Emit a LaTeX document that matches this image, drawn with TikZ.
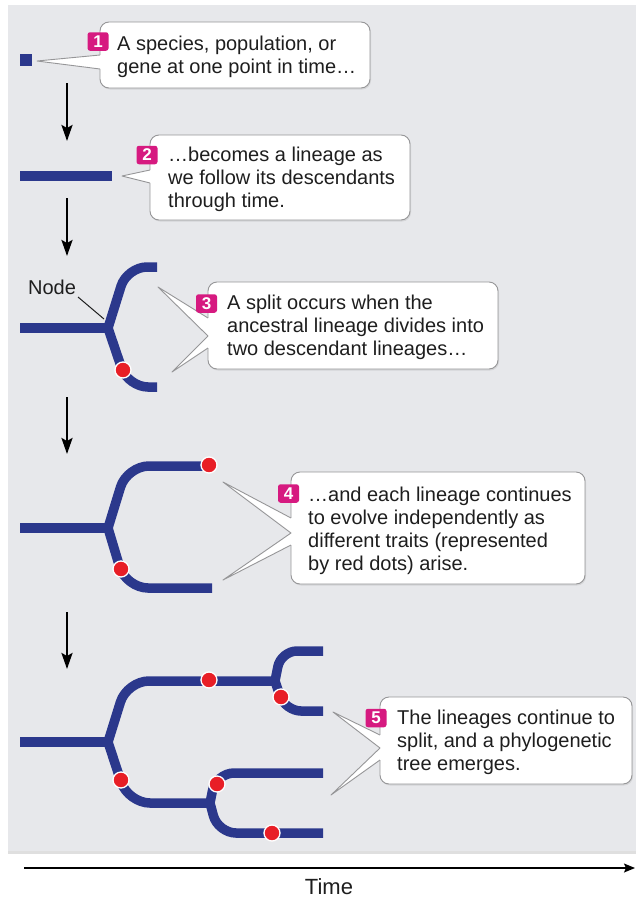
\documentclass[tikz,border=0pt]{standalone}
\usepackage{fontspec}
\setmainfont{Liberation Sans}
\usetikzlibrary{arrows.meta,shadows}

\definecolor{navy}{RGB}{43,56,140}
\definecolor{traitred}{RGB}{232,30,38}
\definecolor{badgepink}{RGB}{214,26,128}
\definecolor{panelgray}{RGB}{231,232,235}
\definecolor{edgegray}{RGB}{150,150,152}
\definecolor{inkgray}{RGB}{30,30,30}

\begin{document}
\begin{tikzpicture}[x=1pt,y=-1pt,
  branch/.style={draw=navy, line width=9.5pt, line join=miter},
  trait/.style={circle, fill=traitred, draw=white, line width=1.3pt, minimum size=16pt, inner sep=0pt},
  flow/.style={draw=black, line width=2.4pt, -{Stealth[length=16pt,width=11pt,inset=3pt]}},
  callout/.style={draw=edgegray, line width=0.9pt, fill=white, rounded corners=9pt, inner sep=0pt,
    drop shadow={opacity=0.18, shadow xshift=1pt, shadow yshift=-1.5pt}},
  tailfill/.style={fill=white},
  tailline/.style={draw=edgegray, line width=0.9pt, line join=round},
  badge/.style={fill=badgepink, rounded corners=2.5pt, minimum width=21pt, minimum height=18.5pt,
    inner sep=0pt, text=white, font=\bfseries\fontsize{17}{17}\selectfont},
  txt/.style={inner sep=0pt, anchor=base west, text=inkgray, font=\fontsize{20}{23.3}\selectfont},
  label/.style={inner sep=0pt, text=inkgray, font=\fontsize{20}{20}\selectfont}]

\useasboundingbox (0,0) rectangle (636,897);
\fill[white] (0,0) rectangle (636,897);

% background panel
\fill[panelgray, drop shadow={opacity=0.25, shadow xshift=0pt, shadow yshift=-2.5pt}] (8,5) rectangle (636,851);

% ---------- stage 1: a single point ----------
\node[fill=navy, minimum width=12pt, minimum height=12pt, inner sep=0pt] (pt) at (26,60) {};

% ---------- stage 2: a lineage ----------
\draw[branch] (20,176) -- (112,176);

% ---------- stage 3: first split ----------
% (a corner is rounded when the option is in force as the segment reaching it is added)
\coordinate (n3) at (108,328);
\draw[branch] (20,328) -- (n3);
\draw[branch] (157,267) [rounded corners=20pt] -- (127,267) [sharp corners] -- (n3) [rounded corners=20pt] -- (128,387) -- (157,387);
\node[trait] (d31) at (123,370) {};

% ---------- stage 4: independent evolution ----------
\coordinate (n4) at (108,528);
\draw[branch] (20,528) -- (n4);
\draw[branch] (209,466) [rounded corners=22pt] -- (127,466) [sharp corners] -- (n4) [rounded corners=22pt] -- (126,588) -- (212,588);
\node[trait] (d41) at (209,465) {};
\node[trait] (d42) at (121,569) {};

% ---------- stage 5: a phylogenetic tree ----------
\coordinate (n5) at (108,742);
\coordinate (n5a) at (275,681);
\coordinate (n5b) at (210,803);
\draw[branch] (20,742) -- (n5);
\draw[branch] (n5a) [rounded corners=22pt] -- (127,681) [sharp corners] -- (n5) [rounded corners=22pt] -- (128,803) -- (n5b);
\draw[branch] (323,651) [rounded corners=16pt] -- (281,651) [sharp corners] -- (n5a) [rounded corners=16pt] -- (285,711) -- (323,711);
\draw[branch] (323,773) [rounded corners=18pt] -- (216,773) [sharp corners] -- (n5b) [rounded corners=18pt] -- (218,833) -- (323,833);
\node[trait] (d51) at (209,680) {};
\node[trait] (d52) at (281,697) {};
\node[trait] (d53) at (121,780) {};
\node[trait] (d54) at (217,784) {};
\node[trait] (d55) at (272,833) {};

% ---------- "Node" label ----------
\node[label, anchor=base] (nodelbl) at (52,294) {Node};
\coordinate (nodetip) at (104,319);
\coordinate (nodefoot) at (78,297);
\draw[line width=1pt, inkgray] (nodefoot) -- (nodetip);

% ---------- arrows between stages ----------
\coordinate (a1s) at (67,83);  \coordinate (a1e) at (67,141);
\coordinate (a2s) at (67,198); \coordinate (a2e) at (67,256);
\coordinate (a3s) at (67,397); \coordinate (a3e) at (67,454);
\coordinate (a4s) at (67,612); \coordinate (a4e) at (67,669);
\draw[flow] (a1s) -- (a1e);
\draw[flow] (a2s) -- (a2e);
\draw[flow] (a3s) -- (a3e);
\draw[flow] (a4s) -- (a4e);

% ---------- callout 1 ----------
\node[callout, minimum width=270pt, minimum height=66pt] (box1) at (235,55) {};
\coordinate (t1) at (37,61);
\fill[tailfill] (102,55) -- (100,55) -- (t1) -- (100,69) -- (102,69) -- cycle;
\draw[tailline] (100,55) -- (t1) -- (100,69);
\node[badge] (b1) at (98,41.5) {1};
\node[txt] (txt1) at (117,50) {\parbox[t]{250pt}{A species, population, or\\gene at one point in time…}};

% ---------- callout 2 ----------
\node[callout, minimum width=260pt, minimum height=85pt] (box2) at (280,177.5) {};
\coordinate (t2) at (122,176);
\fill[tailfill] (152,170) -- (150,170) -- (t2) -- (150,183) -- (152,183) -- cycle;
\draw[tailline] (150,170) -- (t2) -- (150,183);
\node[badge] (b2) at (147,155) {2};
\node[txt] (txt2) at (168,161) {\parbox[t]{250pt}{…becomes a lineage as\\we follow its descendants\\through time.}};

% ---------- callout 3 ----------
\node[callout, minimum width=290pt, minimum height=87pt] (box3) at (353,325.5) {};
\coordinate (t3a) at (158,287);
\coordinate (t3b) at (172,372);
\fill[tailfill] (210,318) -- (208,318) -- (t3a) -- (208,336) -- (t3b) -- (208,348) -- (210,348) -- cycle;
\draw[tailline] (208,318) -- (t3a) -- (208,336) -- (t3b) -- (208,348);
\node[badge] (b3) at (206.5,303.5) {3};
\node[txt] (txt3) at (227,309) {\parbox[t]{280pt}{A split occurs when the\\ancestral lineage divides into\\two descendant lineages…}};

% ---------- callout 4 ----------
\node[callout, minimum width=294pt, minimum height=112pt] (box4) at (438,528) {};
\coordinate (t4a) at (223,482);
\coordinate (t4b) at (223,580);
\fill[tailfill] (293,518) -- (291,518) -- (t4a) -- (291,533) -- (t4b) -- (291,545) -- (293,545) -- cycle;
\draw[tailline] (291,518) -- (t4a) -- (291,533) -- (t4b) -- (291,545);
\node[badge] (b4) at (288.5,493.5) {4};
\node[txt] (txt4) at (308,501) {\parbox[t]{280pt}{…and each lineage continues\\to evolve independently as\\different traits (represented\\by red dots) arise.}};

% ---------- callout 5 ----------
\node[callout, minimum width=252pt, minimum height=87pt] (box5) at (506,740.5) {};
\coordinate (t5a) at (333,712);
\coordinate (t5b) at (331,795);
\fill[tailfill] (382,735) -- (380,735) -- (t5a) -- (380,748) -- (t5b) -- (380,760) -- (382,760) -- cycle;
\draw[tailline] (380,735) -- (t5a) -- (380,748) -- (t5b) -- (380,760);
\node[badge] (b5) at (376,718) {5};
\node[txt] (txt5) at (397,724) {\parbox[t]{240pt}{The lineages continue to\\split, and a phylogenetic\\tree emerges.}};

% ---------- time axis ----------
\coordinate (time0) at (24,868);
\coordinate (time1) at (635,868);
\draw[line width=1.4pt, -{Stealth[length=11pt,width=9pt,inset=2pt]}] (time0) -- (time1);
\node[inner sep=0pt, anchor=base, text=inkgray, font=\fontsize{22}{22}\selectfont] (timelbl) at (329,894) {Time};

\end{tikzpicture}
\end{document}
